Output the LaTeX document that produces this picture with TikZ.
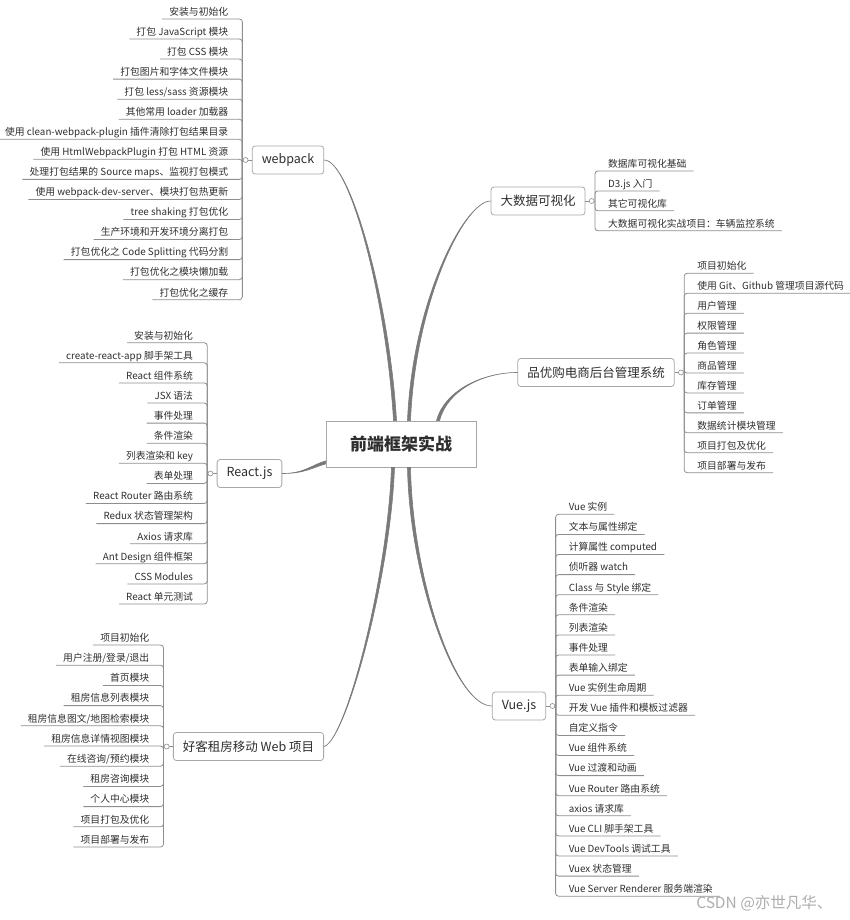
\documentclass[tikz,border=0pt]{standalone}
\usepackage{fontspec}
\setmainfont{Noto Sans CJK SC}
\usetikzlibrary{positioning,calc}
\definecolor{ink}{HTML}{2E2E2E}
\definecolor{trunkgray}{HTML}{7A7A7A}
\definecolor{stemgray}{HTML}{8E8E8E}
\definecolor{framegray}{HTML}{A8A8A8}
\definecolor{markgray}{HTML}{ADADAD}
\tikzset{
  hubbox/.style={
    draw=framegray,fill=white,line width=.9pt,
    minimum width=150pt,minimum height=46pt,
    font=\fontsize{17}{20}\selectfont\bfseries,text=ink
  },
  topic/.style={
    rounded corners=3pt,draw=framegray,fill=white,
    line width=.8pt,minimum height=28pt,inner xsep=9.5pt,
    font=\fontsize{12.5}{15}\selectfont,text=ink
  },
  leaf/.style={
    inner xsep=7pt,inner ysep=2pt,text height=7.5pt,text depth=1.5pt,
    font=\fontsize{9.8}{12}\selectfont,text=ink
  },
  stem/.style={draw=stemgray,line width=.8pt,rounded corners=3pt},
  trunk/.style={draw=trunkgray,fill=trunkgray,line width=.6pt,line join=round},
  knob/.style={circle,draw=stemgray,fill=white,line width=.6pt,minimum size=5pt,inner sep=0pt}
}

\begin{document}
\begin{tikzpicture}[x=1pt,y=-1pt]
\useasboundingbox (0,0) rectangle (850,920);

\node[hubbox] (hub) at (401,444) {前端框架实战};
\node[topic] (wpk) at (288,160) {webpack};
\node[topic] (bigdata) at (538,201) {大数据可视化};
\node[topic] (pyg) at (596,372.5) {品优购电商后台管理系统};
\node[topic] (react) at (249.5,473.5) {React.js};
\node[topic] (haoke) at (248.5,746.5) {好客租房移动 Web 项目};
\node[topic] (vue) at (519,706) {Vue.js};

% tapered branches to the hub
\draw[trunk] (wpk.east) .. controls +(26,0) and +(-7,-120) .. ($(hub.north)+(-7.5,0)$)
  -- ($(hub.north)+(-4.5,0)$) .. controls +(-7,-120) and +(26,0) .. (wpk.east) -- cycle;
\draw[trunk] (bigdata.west) .. controls +(-26,0) and +(5,-120) .. ($(hub.north)+(9.5,0)$)
  -- ($(hub.north)+(6.5,0)$) .. controls +(5,-120) and +(-26,0) .. (bigdata.west) -- cycle;
\draw[trunk] (pyg.west) .. controls +(-35,0) and +(8,-30) .. ($(hub.north)+(38.5,0)$)
  -- ($(hub.north)+(35.5,0)$) .. controls +(8,-30) and +(-35,0) .. (pyg.west) -- cycle;
\draw[trunk] (react.east) .. controls +(22,0) and +(-14,4) .. ($(hub.south west)+(0,-3.5)$)
  -- ($(hub.south west)+(0,-6.5)$) .. controls +(-14,4) and +(22,0) .. (react.east) -- cycle;
\draw[trunk] (haoke.east) .. controls +(22,-6) and +(-4,110) .. ($(hub.south)+(-9.5,0)$)
  -- ($(hub.south)+(-6.5,0)$) .. controls +(-4,110) and +(22,-6) .. (haoke.east) -- cycle;
\draw[trunk] (vue.west) .. controls +(-37,0) and +(2,110) .. ($(hub.south)+(9.5,0)$)
  -- ($(hub.south)+(6.5,0)$) .. controls +(2,110) and +(-37,0) .. (vue.west) -- cycle;

% webpack
\coordinate[left=9.5pt of wpk] (wbus);
\foreach \t [count=\i] in {安装与初始化,
  打包 JavaScript 模块,
  打包 CSS 模块,
  打包图片和字体文件模块,
  打包 less/sass 资源模块,
  其他常用 loader 加载器,
  使用 clean-webpack-plugin 插件清除打包结果目录,
  使用 HtmlWebpackPlugin 打包 HTML 资源,
  处理打包结果的 Source maps、监视打包模式,
  使用 webpack-dev-server、模块打包热更新,
  tree shaking 打包优化,
  生产环境和开发环境分离打包,
  打包优化之 Code Splitting 代码分割,
  打包优化之模块懒加载,
  打包优化之缓存}{
  \node[leaf,anchor=south east] (w\i) at ($(wbus)+(-7,{-141+20.05*(\i-1)})$) {\t};
  \draw[stem] (w\i.south west) -- (w\i.south -| wbus) -- (wbus);
}
\draw[stem] (wpk.west) -- (wbus);
\node[knob,left=3.5pt of wpk] (wknob) {};

% React.js
\coordinate[left=9.5pt of react] (rbus);
\foreach \t [count=\i] in {安装与初始化,
  create-react-app 脚手架工具,
  React 组件系统,
  JSX 语法,
  事件处理,
  条件渲染,
  列表渲染和 key,
  表单处理,
  React Router 路由系统,
  Redux 状态管理架构,
  Axios 请求库,
  Ant Design 组件框架,
  CSS Modules,
  React 单元测试}{
  \node[leaf,anchor=south east] (r\i) at ($(rbus)+(-7,{-130.8+20.1*(\i-1)})$) {\t};
  \draw[stem] (r\i.south west) -- (r\i.south -| rbus) -- (rbus);
}
\draw[stem] (react.west) -- (rbus);
\node[knob,left=3.5pt of react] (rknob) {};

% haoke
\coordinate[left=9.5pt of haoke] (hbus);
\foreach \t [count=\i] in {项目初始化,
  用户注册/登录/退出,
  首页模块,
  租房信息列表模块,
  租房信息图文/地图检索模块,
  租房信息详情视图模块,
  在线咨询/预约模块,
  租房咨询模块,
  个人中心模块,
  项目打包及优化,
  项目部署与发布}{
  \node[leaf,anchor=south east] (h\i) at ($(hbus)+(-7,{-101.5+20.2*(\i-1)})$) {\t};
  \draw[stem] (h\i.south west) -- (h\i.south -| hbus) -- (hbus);
}
\draw[stem] (haoke.west) -- (hbus);
\node[knob,left=3.5pt of haoke] (hknob) {};

% big data
\coordinate[right=9.5pt of bigdata] (dbus);
\foreach \t [count=\i] in {数据库可视化基础,
  D3.js 入门,
  其它可视化库,
  大数据可视化实战项目：车辆监控系统}{
  \node[leaf,anchor=south west] (d\i) at ($(dbus)+(6,{-30+19.9*(\i-1)})$) {\t};
  \draw[stem] (d\i.south east) -- (d\i.south -| dbus) -- (dbus);
}
\draw[stem] (bigdata.east) -- (dbus);
\node[knob,right=3.5pt of bigdata] (dknob) {};

% pinyougou
\coordinate[right=9.5pt of pyg] (pbus);
\foreach \t [count=\i] in {项目初始化,
  使用 Git、Github 管理项目源代码,
  用户管理,
  权限管理,
  角色管理,
  商品管理,
  库存管理,
  订单管理,
  数据统计模块管理,
  项目打包及优化,
  项目部署与发布}{
  \node[leaf,anchor=south west] (p\i) at ($(pbus)+(6,{-99.2+19.94*(\i-1)})$) {\t};
  \draw[stem] (p\i.south east) -- (p\i.south -| pbus) -- (pbus);
}
\draw[stem] (pyg.east) -- (pbus);
\node[knob,right=3.5pt of pyg] (pknob) {};

% Vue.js
\coordinate[right=9.5pt of vue] (vbus);
\foreach \t [count=\i] in {Vue 实例,
  文本与属性绑定,
  计算属性 computed,
  侦听器 watch,
  Class 与 Style 绑定,
  条件渲染,
  列表渲染,
  事件处理,
  表单输入绑定,
  Vue 实例生命周期,
  开发 Vue 插件和模板过滤器,
  自定义指令,
  Vue 组件系统,
  Vue 过渡和动画,
  Vue Router 路由系统,
  axios 请求库,
  Vue CLI 脚手架工具,
  Vue DevTools 调试工具,
  Vuex 状态管理,
  Vue Server Renderer 服务端渲染}{
  \node[leaf,anchor=south west] (v\i) at ($(vbus)+(6,{-191.7+20.1*(\i-1)})$) {\t};
  \draw[stem] (v\i.south east) -- (v\i.south -| vbus) -- (vbus);
}
\draw[stem] (vue.east) -- (vbus);
\node[knob,right=3.5pt of vue] (vknob) {};

\node[anchor=base east,font=\fontsize{15.5}{18}\selectfont,text=markgray] (mark) at (836,908) {CSDN @亦世凡华、};
\end{tikzpicture}
\end{document}
